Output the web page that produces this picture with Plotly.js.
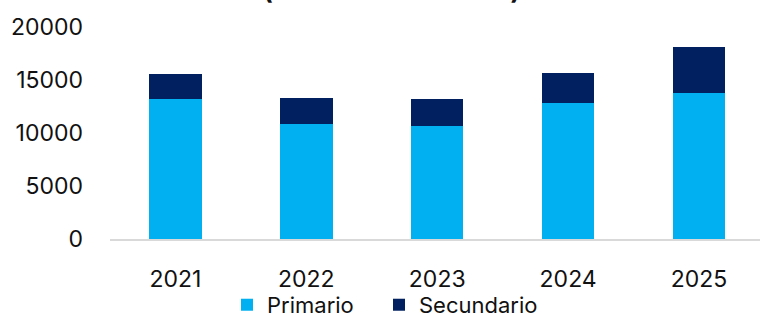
<!DOCTYPE html>
<html>
<head>
<meta charset="utf-8">
<script src="https://cdn.plot.ly/plotly-3.0.1.min.js"></script>
<style>html,body{margin:0;padding:0;background:#fff;}#chart{width:760px;height:314px;}</style>
</head>
<body>
<div id="chart"></div>
<script>
const years = ['2021', '2022', '2023', '2024', '2025'];
const primario = [13240, 10830, 10650, 12800, 13770];
const secundario = [2330, 2470, 2530, 2840, 4310];
const yTicks = [0, 5000, 10000, 15000, 20000];
const titleText = '(miles de toneladas)';

const FONT = 'Inter, "Open Sans", sans-serif';

const traces = [
  {type: 'bar', name: 'Primario', x: years, y: primario, marker: {color: '#00B0F0'}, legend: 'legend'},
  {type: 'bar', name: 'Secundario', x: years, y: secundario, marker: {color: '#002060'}, legend: 'legend2'}
];

const legendBase = {orientation: 'h', xanchor: 'left', y: -0.311, yanchor: 'middle',
  bgcolor: 'rgba(0,0,0,0)', font: {family: FONT, size: 22, color: '#111'}, itemwidth: 30};

const layout = {
  width: 760, height: 314,
  margin: {l: 110, r: 0, t: 27, b: 75, autoexpand: false},
  paper_bgcolor: '#fff', plot_bgcolor: '#fff',
  barmode: 'stack', bargap: 0.6,
  font: {family: FONT, size: 23, color: '#111'},
  showlegend: true,
  legend: Object.assign({}, legendBase, {x: (227 - 110) / 650}),
  legend2: Object.assign({}, legendBase, {x: (379 - 110) / 650}),
  xaxis: {type: 'category', range: [-0.5, 4.466], showgrid: false, zeroline: false,
          showline: true, linecolor: '#d9d9d9', linewidth: 2, ticks: '',
          ticklabelstandoff: 18, tickfont: {family: FONT, size: 23, color: '#111'}},
  yaxis: {range: [0, 20000], tickvals: yTicks, ticktext: yTicks.map(String),
          showgrid: false, zeroline: false, showline: false, ticks: '',
          ticklabelstandoff: 26, tickfont: {family: FONT, size: 23, color: '#111'}},
  annotations: [{text: '<b>' + titleText + '</b>', xref: 'paper', yref: 'paper',
                 x: (391 - 110) / 650, xanchor: 'center', y: 1, yanchor: 'bottom', yshift: 20,
                 showarrow: false, font: {family: FONT, size: 26, color: '#111'}}]
};

Plotly.newPlot('chart', traces, layout, {displayModeBar: false, staticPlot: true});
</script>
</body>
</html>
